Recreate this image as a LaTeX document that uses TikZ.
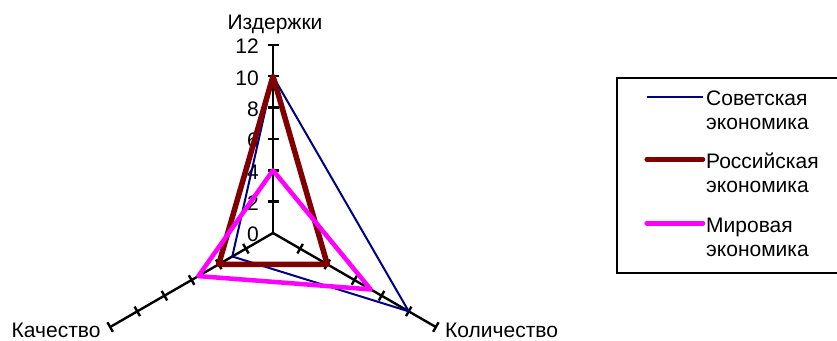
\documentclass[tikz,border=0pt]{standalone}
\usepackage{fontspec}
\setmainfont{Liberation Sans}
\usetikzlibrary{calc}
\definecolor{sovblue}{RGB}{0,0,128}
\definecolor{rusred}{RGB}{128,0,0}
\definecolor{worldmag}{RGB}{255,0,255}
\begin{document}
\begin{tikzpicture}[x=1pt,y=1pt,
  axisline/.style={line width=2.4pt,black},
  tickline/.style={line width=2.4pt,black},
  sov/.style={sovblue,line width=2pt,line join=round},
  rus/.style={rusred,line width=5.5pt,line join=round},
  wor/.style={worldmag,line width=4.5pt,line join=round},
  lbl/.style={inner sep=0pt,font=\fontsize{21}{25}\selectfont},
  legline/.style={line width=4.5pt,line cap=round}]
\useasboundingbox (0,0) rectangle (837,340);
\def\u{15.67}
\coordinate (O) at (273,107);
% axes
\foreach \a/\n in {90/I,-30/K,210/Q}{
  \coordinate (\n12) at ($(O)+(\a:{12*\u})$);
  \draw[axisline] (O) -- (\n12);
  \foreach \k in {2,4,...,12}{
    \draw[tickline] ($(O)+(\a:{\k*\u})+(\a+90:5.5)$) -- ($(O)+(\a:{\k*\u})+(\a-90:5.5)$);
  }
}
% scale labels
\foreach \k in {0,2,...,12}{
  \node[lbl,anchor=east] (v\k) at (259,{107+\k*\u-1.5}) {\k};
}
% series
\coordinate (S1) at ($(O)+(90:{10*\u})$);
\coordinate (S2) at ($(O)+(-30:{10*\u})$);
\coordinate (S3) at ($(O)+(210:{3*\u})$);
\coordinate (R1) at ($(O)+(90:{10*\u})$);
\coordinate (R2) at ($(O)+(-30:{4*\u})$);
\coordinate (R3) at ($(O)+(210:{4*\u})$);
\coordinate (W1) at ($(O)+(90:{4*\u})$);
\coordinate (W2) at ($(O)+(-30:{7.2*\u})$);
\coordinate (W3) at ($(O)+(210:{5.5*\u})$);
\draw[sov] (S1) -- (S2) -- (S3) -- cycle;
\draw[rus] (R1) -- (R2) -- (R3) -- cycle;
\draw[wor] (W1) -- (W2) -- (W3) -- cycle;
% axis labels
\node[lbl,anchor=base] (tI) at (275,310) {Издержки};
\node[lbl,anchor=base west] (tQ) at (11.5,3) {Качество};
\node[lbl,anchor=base west] (tK) at (445,3) {Количество};
% legend
\coordinate (B1) at (837,262);
\coordinate (B2) at (616.7,262);
\coordinate (B3) at (616.7,67);
\coordinate (B4) at (837,67);
\draw[line width=2.4pt] (B1) -- (B2) -- (B3) -- (B4);
\coordinate (L1a) at (646.7,242.7); \coordinate (L1b) at (703,242.7);
\coordinate (L2a) at (646.7,180.7); \coordinate (L2b) at (703,180.7);
\coordinate (L3a) at (646.7,116.7); \coordinate (L3b) at (703,116.7);
\draw[sovblue,line width=2pt] (L1a) -- (L1b);
\draw[rusred,legline] (L2a) -- (L2b);
\draw[worldmag,legline] (L3a) -- (L3b);
\node[lbl,anchor=base west] (g1) at (706,234) {Советская};
\node[lbl,anchor=base west] (g1b) at (706,210.5) {экономика};
\node[lbl,anchor=base west] (g2) at (706,171.5) {Российская};
\node[lbl,anchor=base west] (g2b) at (706,147.5) {экономика};
\node[lbl,anchor=base west] (g3) at (706,107) {Мировая};
\node[lbl,anchor=base west] (g3b) at (706,83.5) {экономика};
\end{tikzpicture}
\end{document}
